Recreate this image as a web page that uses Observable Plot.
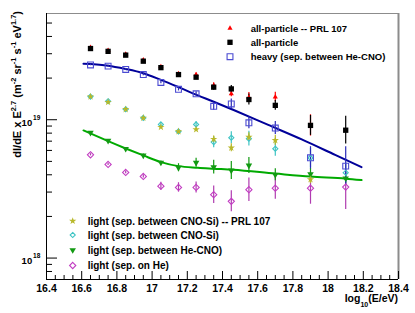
<!DOCTYPE html>
<html><head><meta charset="utf-8">
<script src="https://cdn.jsdelivr.net/npm/d3@7"></script>
<script src="https://cdn.jsdelivr.net/npm/@observablehq/plot@0.6"></script>
<style>
html,body{margin:0;padding:0;background:#fff;}
#wrap{position:relative;width:415px;height:313px;font-family:"Liberation Sans",Arial,Helvetica,sans-serif;}
</style></head><body><div id="wrap"></div>
<script>
// ---- data (log10 E/eV bins) ----
const logE = [16.65,16.75,16.85,16.95,17.05,17.15,17.25,17.35,17.45,17.55,17.70,17.90,18.10];
// all-particle (this work)
const allParticle    = [3.27e19,3.12e19,2.93e19,2.65e19,2.38e19,2.12e19,2.03e19,1.72e19,1.67e19,1.40e19,1.27e19,9.1e18,8.4e18];
const allParticleErr = [0.008,0.008,0.008,0.008,0.008,0.010,0.012,0.022,0.025,0.040,0.036,0.072,0.100];
// all-particle -- PRL 107
const allPRL    = [3.33e19,3.17e19,2.97e19,2.70e19,2.42e19,2.15e19,2.12e19,1.77e19,1.54e19,1.45e19,1.46e19,9.1e18];
const allPRLErr = [0.008,0.008,0.008,0.008,0.008,0.010,0.012,0.020,0.022,0.035,0.034,0.077];
// heavy (sep. between He-CNO)
const heavy    = [2.49e19,2.44e19,2.31e19,2.12e19,1.86e19,1.66e19,1.54e19,1.25e19,1.30e19,9.5e18,8.7e18,5.31e18,4.62e18];
const heavyErr = [0.006,0.006,0.006,0.008,0.010,0.012,0.015,0.029,0.036,0.043,0.047,0.080,0.140];
// light (sep. between CNO-Si) -- PRL 107
const lightPRL    = [1.47e19,1.34e19,1.19e19,1.03e19,8.84e18,8.23e18,8.5e18,7.24e18,6.27e18,7.5e18,7.1e18,3.7e18];
const lightPRLErr = [0.006,0.006,0.006,0.008,0.010,0.010,0.012,0.022,0.029,0.030,0.036,0.030];
// light (sep. between CNO-Si)
const lightCNOSi    = [1.47e19,1.36e19,1.19e19,1.03e19,9.25e18,8.23e18,9.25e18,6.89e18,7.41e18,7.3e18,6.17e18,5.3e18,4.14e18];
const lightCNOSiErr = [0.008,0.008,0.008,0.010,0.012,0.015,0.020,0.041,0.043,0.054,0.054,0.070,0.070];
// light (sep. between He-CNO)
const lightHeCNO    = [8.06e18,7.05e18,6.17e18,5.52e18,4.90e18,4.50e18,4.89e18,4.54e18,4.30e18,4.67e18,4.0e18,4.05e18,3.77e18];
const lightHeCNOErr = [0.006,0.006,0.008,0.010,0.012,0.029,0.033,0.050,0.065,0.058,0.043,0.040,0.040];
// light (sep. on He)
const lightHe    = [5.58e18,4.75e18,4.16e18,3.89e18,3.31e18,3.24e18,3.24e18,2.87e18,2.57e18,3.12e18,3.20e18,3.20e18,3.26e18];
const lightHeErr = [0.008,0.008,0.010,0.012,0.029,0.034,0.040,0.063,0.076,0.085,0.080,0.116,0.163];
// fitted curves
const heavyFitE = [16.61,16.74,16.85,16.95,17.05,17.15,17.26,17.35,17.46,17.66,17.85,18.04,18.19];
const heavyFitV = [2.54e19,2.47e19,2.33e19,2.17e19,1.94e19,1.72e19,1.50e19,1.35e19,1.18e19,9.17e18,7.21e18,5.57e18,4.54e18];
const lightFitE = [16.61,16.74,16.85,16.95,17.05,17.15,17.26,17.35,17.46,17.70,17.90,18.10,18.19];
const lightFitV = [8.37e18,7.09e18,6.2e18,5.52e18,4.94e18,4.62e18,4.5e18,4.43e18,4.35e18,4.08e18,3.88e18,3.75e18,3.66e18];
// axes
const xDomain = [16.4, 18.4];
const yDomain = [7e17, 5.86e19];
const xMajor = [16.4,16.6,16.8,17.0,17.2,17.4,17.6,17.8,18.0,18.2,18.4];
const xTickLabels = ["16.4","16.6","16.8","17","17.2","17.4","17.6","17.8","18","18.2","18.4"];
const yMajor = [1e18, 1e19];
const yExpLabels = ["18","19"];
const yMinor = [8e17,9e17,2e18,3e18,4e18,5e18,6e18,7e18,8e18,9e18,2e19,3e19,4e19,5e19];

const rows = (vals, errs) => vals.map((v,i) => ({E: logE[i], v, lo: v/10**errs[i], hi: v*10**errs[i]}));
const fit = (E, V) => E.map((e,i) => ({E: e, v: V[i]}));

const C = {
  red: "#ff0000", black: "#000000", heavy: "#4b4bd2", heavyBar: "#2b2bb8", heavyLine: "#000099",
  yellow: "#b8b82a", cyan: "#3ec4c4", green: "#129a12", greenLine: "#00aa00", magenta: "#c23cc2"
};

const series = [
  {data: rows(lightHe, lightHeErr), color: C.magenta, bar: "#b03cb0", symbol: "diamond2", r: 2.8, open: true},
  {data: rows(lightHeCNO, lightHeCNOErr), color: C.green, bar: C.green, symbol: "triangle", r: 2.4, rotate: 180},
  {data: rows(lightCNOSi, lightCNOSiErr), color: C.cyan, bar: C.cyan, symbol: "diamond2", r: 2.3, open: true},
  {data: rows(lightPRL, lightPRLErr), color: C.yellow, bar: C.yellow, symbol: "star", r: 2.3},
  {data: rows(heavy, heavyErr), color: C.heavy, bar: C.heavyBar, symbol: "square", r: 3.3, open: true},
  {data: rows(allPRL, allPRLErr), color: C.red, bar: C.red, symbol: "triangle", r: 1.9},
  {data: rows(allParticle, allParticleErr), color: C.black, bar: C.black, symbol: "square", r: 3.0}
];

const frameW = 415 - 46 - 17, frameH = 313 - 13 - 34;
const xMinor = d3.range(16.4, 18.4001, 0.05).filter(t => Math.abs(Math.round(t/0.2)*0.2 - t) > 1e-6);

const marks = [
  Plot.ruleY([yDomain[1]], {stroke: "#8c8c8c", strokeWidth: 1}),
  Plot.ruleX([xDomain[1]], {stroke: "#8c8c8c", strokeWidth: 2}),
  Plot.ruleX([xDomain[0]], {stroke: "#000"}),
  Plot.ruleY([yDomain[0]], {stroke: "#000"}),
  Plot.tickX(xMajor, {x: d => d, insetTop: frameH - 8, stroke: "#000"}),
  Plot.tickX(xMinor, {x: d => d, insetTop: frameH - 4, stroke: "#000"}),
  Plot.tickY(yMajor, {y: d => d, insetRight: frameW - 11, stroke: "#000"}),
  Plot.tickY(yMinor, {y: d => d, insetRight: frameW - 6, stroke: "#000"}),
  Plot.text(xMajor, {x: d => d, frameAnchor: "bottom", text: (d,i) => xTickLabels[i], lineAnchor: "bottom", dy: 12.5, fontSize: 10.5, fontWeight: "bold", fill: "#000"}),
  Plot.text(yMajor, {y: d => d, frameAnchor: "left", text: d => "10", textAnchor: "end", lineAnchor: "bottom", dx: -14.3, dy: 5.8, fontSize: 9.5, fontWeight: "bold", fill: "#000"}),
  Plot.text(yMajor, {y: d => d, frameAnchor: "left", text: (d,i) => yExpLabels[i], textAnchor: "start", lineAnchor: "bottom", dx: -13.4, dy: 0.3, fontSize: 6.5, fontWeight: "bold", fill: "#000"}),
  Plot.line(fit(heavyFitE, heavyFitV), {x: "E", y: "v", curve: "monotone-x", stroke: C.heavyLine, strokeWidth: 2}),
  Plot.line(fit(lightFitE, lightFitV), {x: "E", y: "v", curve: "monotone-x", stroke: C.greenLine, strokeWidth: 2}),
];
for (const s of series) {
  marks.push(Plot.ruleX(s.data, {x: "E", y1: "lo", y2: "hi", stroke: s.bar, strokeWidth: 1.2}));
}
for (const s of series) {
  const o = {x: "E", y: "v", symbol: s.symbol, r: s.r};
  if (s.rotate) o.rotate = s.rotate;
  if (s.open) { o.stroke = s.color; o.fill = "none"; o.strokeWidth = 1.1; }
  else { o.fill = s.color; o.stroke = "none"; }
  marks.push(Plot.dot(s.data, o));
}

const svg = Plot.plot({
  width: 415, height: 313,
  marginLeft: 46, marginRight: 17, marginTop: 13, marginBottom: 34,
  style: {fontFamily: '"Liberation Sans", Arial, Helvetica, sans-serif', background: "#fff"},
  x: {domain: xDomain, axis: null},
  y: {type: "log", domain: yDomain, axis: null},
  marks
});
document.getElementById("wrap").appendChild(svg);

// axis titles with super/subscripts
function rich(parent, parts, big, small, shift) {
  let cur = 0;
  for (const [t, k] of parts) {
    const target = k === 1 ? -shift : k === -1 ? shift : 0;
    parent.append("tspan").attr("dy", target - cur).attr("font-size", k ? small : big).text(t);
    cur = target;
  }
}
const S = d3.select(svg);
const yl = S.append("text").attr("transform", "translate(20.5,11) rotate(-90)")
  .attr("text-anchor", "end").attr("font-weight", "bold").attr("fill", "#000").attr("font-size", 11);
rich(yl, [["dI/dE x E",0],["2.7",1],[" (m",0],["-2",1],[" sr",0],["-1",1],[" s",0],["-1",1],[" eV",0],["1.7",1],[")",0]], 11, 7.5, 4.5);
const xl = S.append("text").attr("x", 398).attr("y", 302)
  .attr("text-anchor", "end").attr("font-weight", "bold").attr("fill", "#000").attr("font-size", 10.5);
rich(xl, [["log",0],["10",-1],["(E/eV)",0]], 10.5, 7, 4.5);

// legends
const legends = [
  {x: 230, tx: 250.7, fs: 9.5, items: [
    {label: "all-particle -- PRL 107", s: series[5], y: 28.3},
    {label: "all-particle", s: series[6], y: 42.3},
    {label: "heavy (sep. between He-CNO)", s: series[4], y: 56.7}]},
  {x: 72.7, tx: 87.7, fs: 10, items: [
    {label: "light (sep. between CNO-Si) -- PRL 107", s: series[3], y: 221},
    {label: "light (sep. between CNO-Si)", s: series[2], y: 235},
    {label: "light (sep. between He-CNO)", s: series[1], y: 250},
    {label: "light (sep. on He)", s: series[0], y: 265.5}]}
];
const symMap = {square: d3.symbolSquare, triangle: d3.symbolTriangle, star: d3.symbolStar, diamond2: d3.symbolDiamond2};
const wrap = d3.select("#wrap");
for (const L of legends) for (const it of L.items) {
  const s = it.s;
  const g = wrap.append("svg").attr("width", 415).attr("height", 313)
    .style("position", "absolute").style("left", 0).style("top", 0).style("pointer-events", "none");
  g.append("path").attr("d", d3.symbol(symMap[s.symbol], Math.PI * s.r * s.r)())
    .attr("transform", `translate(${L.x},${it.y}) rotate(${s.rotate || 0})`)
    .attr("fill", s.open ? "none" : s.color).attr("stroke", s.open ? s.color : "none").attr("stroke-width", 1.1);
  g.append("text").attr("x", L.tx).attr("y", it.y).attr("dy", "0.35em")
    .attr("font-size", L.fs).attr("font-weight", "bold").attr("fill", "#000")
    .attr("font-family", '"Liberation Sans", Arial, Helvetica, sans-serif').text(it.label);
}
</script></body></html>
